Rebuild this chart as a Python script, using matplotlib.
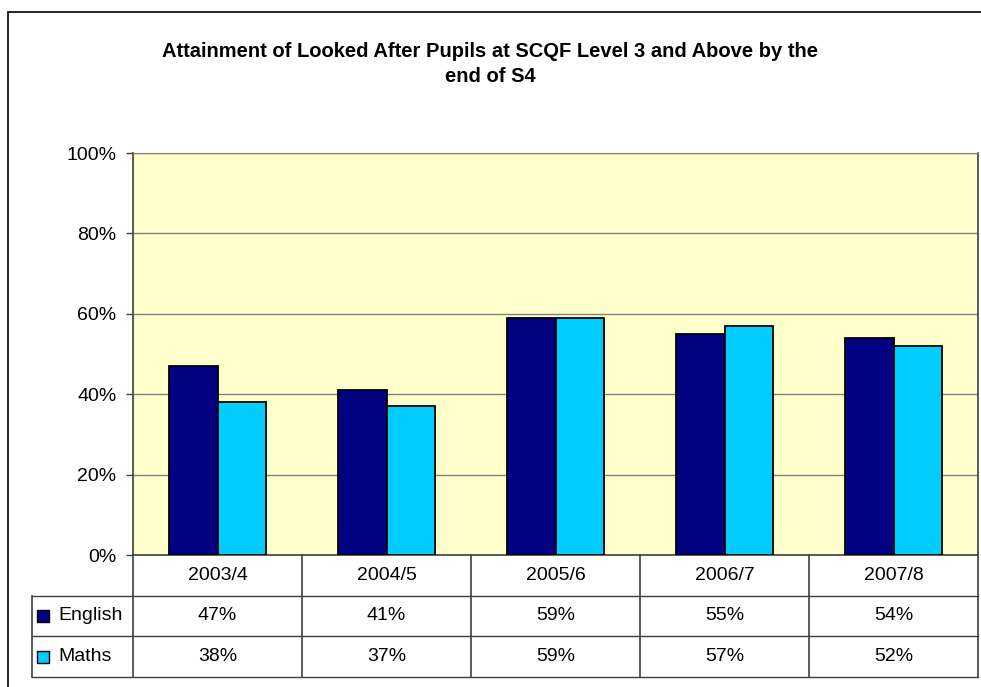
import numpy as np
import matplotlib.pyplot as plt
from matplotlib.patches import Rectangle

plt.rcParams['font.family'] = ['Liberation Sans', 'DejaVu Sans']

years = ['2003/4', '2004/5', '2005/6', '2006/7', '2007/8']
english = [47, 41, 59, 55, 54]
maths = [38, 37, 59, 57, 52]
series_names = ['English', 'Maths']
series_colors = ['#000080', '#00CCFF']

W, H = 981, 687
fig = plt.figure(figsize=(W / 100, H / 100), dpi=100)


def px(x0, y0, x1, y1):
    # pixel box (top-left origin) -> figure fraction rect
    return [x0 / W, 1 - y1 / H, (x1 - x0) / W, (y1 - y0) / H]


# outer chart border
fig.patches.append(Rectangle((8 / W, -0.01), 1.0, 1 - 12 / H + 0.01,
                             transform=fig.transFigure, fill=False,
                             edgecolor='black', linewidth=1.2))

fig.text(490 / W, 1 - 64 / H,
         'Attainment of Looked After Pupils at SCQF Level 3 and Above by the\nend of S4',
         ha='center', va='center', fontsize=14.5, fontweight='bold',
         linespacing=1.45)

ax = fig.add_axes(px(133, 153, 978, 555))
ax.set_facecolor('#FFFFCC')
x = np.arange(len(years))
bw = 0.285
ax.bar(x - bw / 2, english, bw, color=series_colors[0], edgecolor='black',
       linewidth=1.3, zorder=3)
ax.bar(x + bw / 2, maths, bw, color=series_colors[1], edgecolor='black',
       linewidth=1.3, zorder=3)
ax.set_xlim(-0.5, len(years) - 0.5)
ax.set_ylim(0, 100)
ax.set_yticks(np.arange(0, 101, 20))
ax.set_yticklabels([f'{v}%' for v in range(0, 101, 20)], fontsize=14)
ax.yaxis.grid(True, color='#808080', linewidth=1.0, zorder=0)
ax.set_xticks([])
ax.tick_params(axis='y', length=5, width=1, color='#404040', pad=7)
for s in ['left', 'bottom', 'right']:
    ax.spines[s].set_color('#404040')
    ax.spines[s].set_linewidth(1.2)
ax.spines['top'].set_color('#808080')

# data table below the plot
tx0, tx1 = 32, 978
tab = fig.add_axes(px(tx0, 555, tx1, 677))
unit = (978 - 133) / len(years)
left_units = -0.5 - (133 - tx0) / unit
tab.set_xlim(left_units, len(years) - 0.5)
tab.set_ylim(3, 0)
tab.axis('off')
lc = '#404040'
for i, yr in enumerate(years):
    tab.text(i, 0.5, yr, ha='center', va='center', fontsize=14)
    tab.text(i, 1.5, f'{english[i]}%', ha='center', va='center', fontsize=14)
    tab.text(i, 2.5, f'{maths[i]}%', ha='center', va='center', fontsize=14)
for k in range(len(years) + 1):
    tab.plot([k - 0.5, k - 0.5], [0, 3], color=lc, lw=1.2, clip_on=False)
tab.plot([left_units, left_units], [1, 3], color=lc, lw=1.2, clip_on=False)
for r in [1, 2, 3]:
    tab.plot([left_units, len(years) - 0.5], [r, r], color=lc, lw=1.0,
             clip_on=False)
for r, (name, col) in enumerate(zip(series_names, series_colors)):
    tab.scatter([left_units + 10.5 / unit], [r + 1.5], marker='s', s=80,
                color=col, edgecolor='black', linewidth=1.0, clip_on=False,
                zorder=3)
    tab.text(left_units + 26 / unit, r + 1.5, name, ha='left', va='center',
             fontsize=14)

fig.savefig('out.png', dpi=100)
